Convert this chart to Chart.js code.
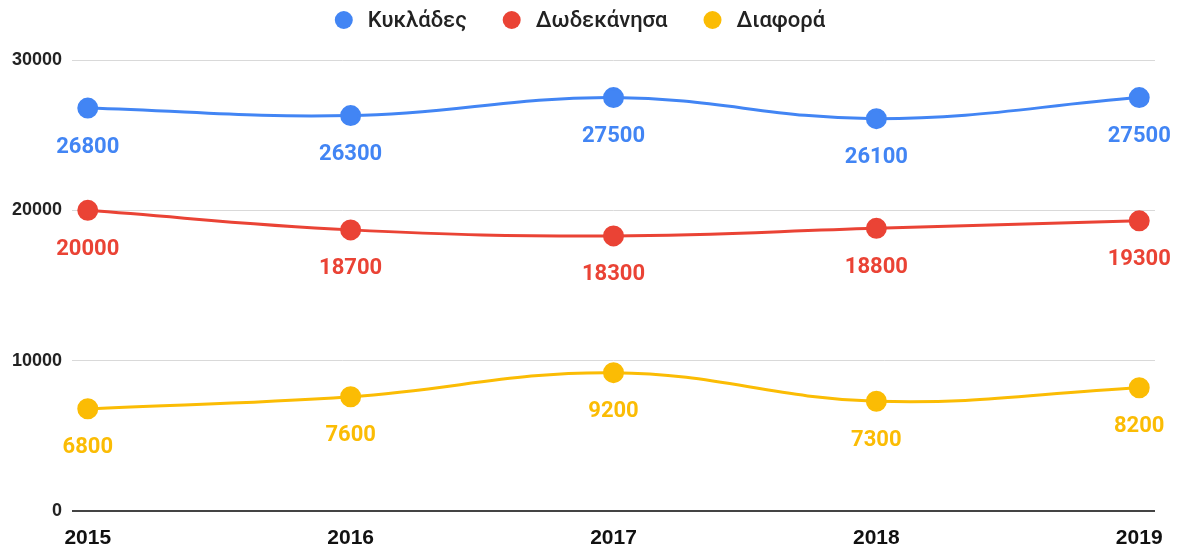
<!DOCTYPE html>
<html>
<head>
<meta charset="utf-8">
<script src="https://cdn.jsdelivr.net/npm/chart.js@4"></script>
<style>
  html, body { margin: 0; padding: 0; background: #fff; }
  #wrap { width: 1180px; height: 545px; }
</style>
</head>
<body>
<div id="wrap"><canvas id="chart"></canvas></div>
<script>
const years = [2015, 2016, 2017, 2018, 2019];
const kyklades = [26800, 26300, 27500, 26100, 27500];
const dodekanisa = [20000, 18700, 18300, 18800, 19300];
const diafora = [6800, 7600, 9200, 7300, 8200];
const yTicks = [0, 10000, 20000, 30000];

const colors = { blue: '#4285f4', red: '#ea4335', yellow: '#fbbc04' };

// draws the value under each point (no datalabels plugin available)
const valueLabels = {
  id: 'valueLabels',
  afterDatasetsDraw(chart) {
    const ctx = chart.ctx;
    ctx.save();
    ctx.font = 'bold 22px Roboto';
    ctx.textAlign = 'center';
    ctx.textBaseline = 'middle';
    chart.data.datasets.forEach((ds, i) => {
      const meta = chart.getDatasetMeta(i);
      ctx.fillStyle = ds.borderColor;
      meta.data.forEach((pt, j) => {
        ctx.fillText(String(ds.data[j].y), pt.x, pt.y + 39);
      });
    });
    ctx.restore();
  }
};

// simple centred legend with round markers
const topLegend = {
  id: 'topLegend',
  afterDraw(chart) {
    const ctx = chart.ctx;
    const r = 9, gapText = 24, gapItem = 36, y = 20;
    ctx.save();
    ctx.font = '500 22px Roboto';
    ctx.textBaseline = 'middle';
    const items = chart.data.datasets.map((ds) => ({
      text: ds.label, color: ds.borderColor, w: ctx.measureText(ds.label).width
    }));
    let total = 0;
    items.forEach((it, i) => {
      total += r + gapText + it.w + (i < items.length - 1 ? gapItem + r : 0);
    });
    let x = (chart.width - total) / 2 + r - 1;
    items.forEach((it) => {
      ctx.fillStyle = it.color;
      ctx.beginPath();
      ctx.arc(x, y, r, 0, Math.PI * 2);
      ctx.fill();
      ctx.fillStyle = '#222';
      ctx.fillText(it.text, x + gapText, y + 1);
      x += gapText + it.w + gapItem + r;
    });
    ctx.restore();
  }
};

const toPoints = (arr) => arr.map((v, i) => ({ x: years[i], y: v }));

const makeSet = (label, data, color) => ({
  label,
  data: toPoints(data),
  borderColor: color,
  backgroundColor: color,
  borderWidth: 3,
  pointRadius: 9,
  pointHoverRadius: 9,
  tension: 0.4
});

new Chart(document.getElementById('chart'), {
  type: 'line',
  data: {
    datasets: [
      makeSet('Κυκλάδες', kyklades, colors.blue),
      makeSet('Δωδεκάνησα', dodekanisa, colors.red),
      makeSet('Διαφορά', diafora, colors.yellow)
    ]
  },
  plugins: [valueLabels, topLegend],
  options: {
    responsive: true,
    maintainAspectRatio: false,
    animation: false,
    layout: { padding: { left: 0, right: 25, top: 60, bottom: 0 } },
    plugins: {
      legend: { display: false },
      tooltip: { enabled: false }
    },
    scales: {
      x: {
        type: 'linear',
        min: 2014.94,
        max: 2019.06,
        afterBuildTicks(axis) {
          axis.ticks = years.map((v) => ({ value: v }));
        },
        afterFit(axis) { axis.height = 34; },
        grid: { display: false },
        border: { display: false },
        ticks: {
          color: '#111',
          padding: 7,
          maxRotation: 0,
          autoSkip: false,
          font: { family: 'Liberation Sans', size: 21, weight: 'bold' },
          callback(value) { return String(value); }
        }
      },
      y: {
        min: 0,
        max: 30000,
        afterBuildTicks(axis) {
          axis.ticks = yTicks.map((v) => ({ value: v }));
        },
        afterFit(axis) { axis.width = 72; },
        grid: {
          color: (c) => (c.tick && c.tick.value === 0 ? '#444' : '#d9d9d9'),
          lineWidth: (c) => (c.tick && c.tick.value === 0 ? 2 : 1),
          drawTicks: false
        },
        border: { display: false },
        ticks: {
          color: '#222',
          padding: 10,
          font: { family: 'Liberation Sans', size: 18, weight: 'bold' },
          callback(value) { return String(value); }
        }
      }
    }
  }
});
</script>
</body>
</html>
